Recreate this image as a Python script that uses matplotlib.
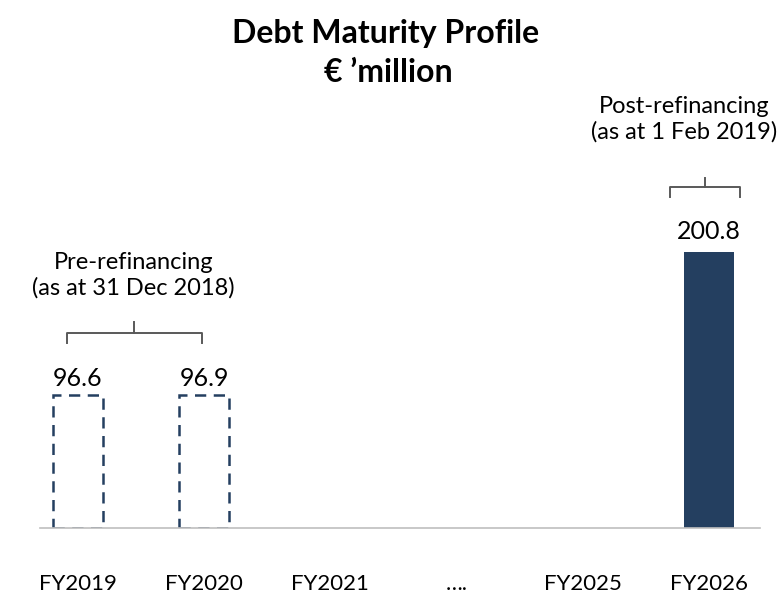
import matplotlib
matplotlib.use("Agg")
import matplotlib.pyplot as plt

plt.rcParams["font.family"] = ["Lato", "DejaVu Sans"]

# data
categories = ["FY2019", "FY2020", "FY2021", "….", "FY2025", "FY2026"]
pre_values = [96.6, 96.9, 0, 0, 0, 0]
post_values = [0, 0, 0, 0, 0, 200.8]

NAVY = "#243F60"
GREY = "#595959"


def bracket(ax, x0, x1, y, depth, tick):
    xm = (x0 + x1) / 2
    ax.plot([x0, x0, x1, x1], [y - depth, y, y, y - depth], color=GREY, lw=1.4,
            solid_joinstyle="round", clip_on=False)
    ax.plot([xm, xm], [y, y + tick], color=GREY, lw=1.4, clip_on=False)


def main() -> None:
    fig = plt.figure(figsize=(7.83, 6.0), dpi=100)
    ax = fig.add_axes([40 / 783, 72 / 600, 720 / 783, 428 / 600])
    x = list(range(len(categories)))
    width = 0.396

    for xi, v in zip(x, pre_values):
        if v:
            ax.bar(xi, v, width=width, facecolor="none", edgecolor=NAVY,
                   linestyle=(0, (4.5, 3)), linewidth=1.8)
            ax.text(xi, v + 12, f"{v:.1f}", ha="center", va="center", fontsize=18)
    for xi, v in zip(x, post_values):
        if v:
            ax.bar(xi, v, width=width, color=NAVY)
            ax.text(xi, v + 15, f"{v:.1f}", ha="center", va="center", fontsize=18)

    ax.set_xlim(-0.301, 5.404)
    ax.set_ylim(0, 311.4)
    ax.set_xticks(x)
    ax.set_xticklabels(categories, fontsize=16)
    ax.tick_params(axis="x", length=0, pad=33)
    ax.set_yticks([])
    for side in ["top", "right", "left"]:
        ax.spines[side].set_visible(False)
    ax.spines["bottom"].set_color("#BFBFBF")
    ax.spines["bottom"].set_linewidth(1.2)

    # brackets and notes
    bracket(ax, -0.09, 0.98, 141.9, 7.3, 8.0)
    ax.text(0.44, 193.5, "Pre-refinancing", ha="center", va="center", fontsize=17)
    ax.text(0.44, 174.6, "(as at 31 Dec 2018)", ha="center", va="center", fontsize=17)

    bracket(ax, 4.69, 5.245, 248.1, 7.3, 6.5)
    ax.text(4.80, 307, "Post-refinancing", ha="center", va="center", fontsize=17)
    ax.text(4.80, 288, "(as at 1 Feb 2019)", ha="center", va="center", fontsize=17)

    fig.text(386 / 783, 1 - 33 / 600, "Debt Maturity Profile", ha="center", va="center",
             fontsize=23, fontweight="bold")
    fig.text(388 / 783, 1 - 72 / 600, "€ ’million", ha="center", va="center",
             fontsize=23, fontweight="bold")

    fig.savefig("out.png", dpi=100)
    plt.close(fig)


if __name__ == "__main__":
    main()
